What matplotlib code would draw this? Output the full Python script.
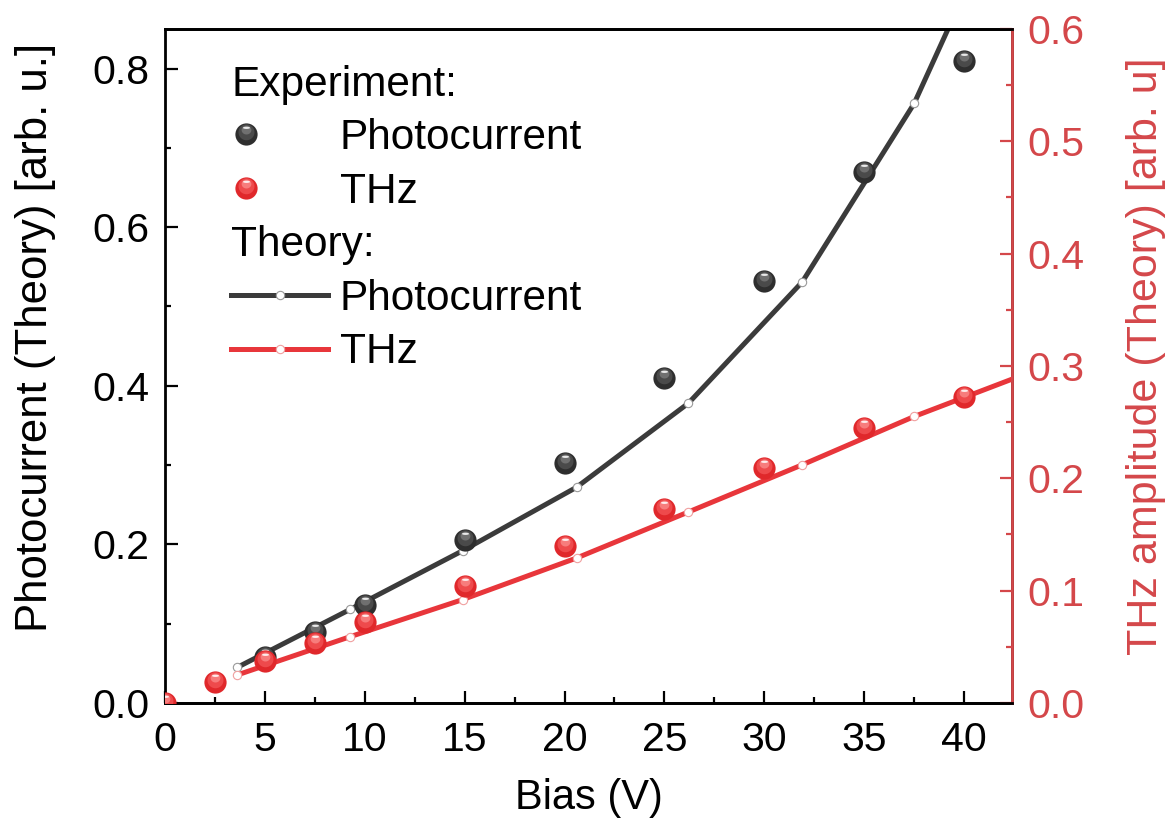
import numpy as np
import matplotlib
matplotlib.use("Agg")
import matplotlib.pyplot as plt
from matplotlib.path import Path
from matplotlib.lines import Line2D
from matplotlib.legend_handler import HandlerTuple
from matplotlib.ticker import MultipleLocator, FormatStrFormatter

plt.rcParams['font.family'] = ['Liberation Sans', 'DejaVu Sans']

# experiment
bias_pc = [5, 7.5, 10, 15, 20, 25, 30, 35, 40]
pc_exp = [0.058, 0.090, 0.123, 0.205, 0.302, 0.410, 0.532, 0.669, 0.810]
bias_thz = [0, 2.5, 5, 7.5, 10, 15, 20, 25, 30, 35, 40]
thz_exp = [0.0, 0.019, 0.037, 0.053, 0.072, 0.104, 0.140, 0.173, 0.209, 0.245, 0.272]

# theory
bias_th = [3.63, 9.27, 14.9, 20.6, 26.2, 31.9, 37.5, 43.1]
pc_th = [0.045, 0.118, 0.192, 0.272, 0.378, 0.531, 0.756, 1.066]
thz_th = [0.025, 0.059, 0.092, 0.129, 0.170, 0.212, 0.255, 0.293]

BLACK = '#3b3b3b'
RED = '#e8363b'
AXRED = '#d4474a'


def blob(cy, rx, ry):
    # marker path, the first lone MOVETO keeps the scale the same as 'o'
    t = np.linspace(0, 2 * np.pi, 41)
    v = np.column_stack([rx * np.cos(t), cy + ry * np.sin(t)])
    v = np.vstack([[0, -0.5], v])
    codes = [Path.MOVETO, Path.MOVETO] + [Path.LINETO] * 39 + [Path.CLOSEPOLY]
    return Path(v, codes)


def balls(a, x, y, base, mid, light, ms=16):
    h1, = a.plot(x, y, 'o', ms=ms, color=base, mew=0, ls='none', zorder=4)
    h2, = a.plot(x, y, marker=blob(0.1, 0.36, 0.36), ms=ms, color=mid, mew=0, ls='none', zorder=4)
    h3, = a.plot(x, y, marker=blob(0.2, 0.22, 0.2), ms=ms, color=light, mew=0, ls='none', zorder=4)
    h4, = a.plot(x, y, marker=blob(0.3, 0.16, 0.05), ms=ms, color='white', mew=0, ls='none',
                 alpha=0.85, zorder=4)
    return (h1, h2, h3, h4)


class LeftBall(HandlerTuple):
    # ball sits at the left end of the handle box
    def create_artists(self, legend, orig_handle, xdescent, ydescent, width, height, fontsize, trans):
        return super().create_artists(legend, orig_handle, xdescent, ydescent, width * 0.3,
                                      height, fontsize, trans)


fig = plt.figure(figsize=(11.7, 8.27), dpi=100)
ax = fig.add_axes([0.141, 0.150, 0.724, 0.815])
ax2 = ax.twinx()

l_pc, = ax.plot(bias_th, pc_th, '-', color=BLACK, lw=3.6, marker='o', ms=6,
                mfc='white', mec='#9a9a9a', mew=0.8, zorder=2)
b_pc = balls(ax, bias_pc, pc_exp, '#2e2e2e', '#4a4a4a', '#707070')

l_thz, = ax2.plot(bias_th, thz_th, '-', color=RED, lw=3.6, marker='o', ms=6,
                  mfc='white', mec='#f0a0a0', mew=0.8, zorder=2)
b_thz = balls(ax2, bias_thz, thz_exp, '#e0282b', '#ee4a4c', '#f77c7c')

ax.set_xlim(0, 42.4)
ax.set_ylim(0, 0.85)
ax2.set_ylim(0, 0.6)

ax.xaxis.set_major_locator(MultipleLocator(5))
ax.xaxis.set_minor_locator(MultipleLocator(2.5))
ax.yaxis.set_major_locator(MultipleLocator(0.2))
ax.yaxis.set_minor_locator(MultipleLocator(0.1))
ax2.yaxis.set_major_locator(MultipleLocator(0.1))
ax2.yaxis.set_minor_locator(MultipleLocator(0.05))
ax.yaxis.set_major_formatter(FormatStrFormatter('%.1f'))
ax2.yaxis.set_major_formatter(FormatStrFormatter('%.1f'))

ax.tick_params(which='both', direction='in', width=1.6, labelsize=29.5, top=False, right=False, pad=11)
ax.tick_params(axis='x', pad=13)
ax.tick_params(which='major', length=9)
ax.tick_params(which='minor', length=4.5)
ax2.tick_params(which='both', direction='in', width=1.6, labelsize=29.5, colors=AXRED, pad=11)
ax2.tick_params(which='major', length=9)
ax2.tick_params(which='minor', length=4.5)

for s in ax.spines.values():
    s.set_linewidth(2)
for s in ax2.spines.values():
    s.set_linewidth(2)
ax2.spines['right'].set_color(AXRED)
ax2.spines['left'].set_visible(False)

ax.set_xlabel('Bias (V)', fontsize=30, labelpad=14)
ax.set_ylabel('Photocurrent (Theory) [arb. u.]', fontsize=31.5, labelpad=26, y=0.542)
ax2.set_ylabel('THz amplitude (Theory) [arb. u]', fontsize=31, color=AXRED, labelpad=30, y=0.514)

head1 = Line2D([], [], ls='none')
head2 = Line2D([], [], ls='none')
leg = ax2.legend([head1, b_pc, b_thz, head2, l_pc, l_thz],
                 ['Experiment:', 'Photocurrent', 'THz', 'Theory:', 'Photocurrent', 'THz'],
                 handler_map={tuple: LeftBall(ndivide=1, pad=0)},
                 loc='upper left', bbox_to_anchor=(0.078, 0.947), frameon=False,
                 fontsize=30.5, handlelength=2.3, handletextpad=0.27, labelspacing=0.32,
                 borderpad=0, borderaxespad=0)

# header rows start where the symbols start
for col in leg._legend_handle_box.get_children():
    rows = col.get_children()
    for i in (0, 3):
        rows[i].get_children()[0].width = 0
        rows[i].sep = 0

fig.savefig('out.png', dpi=100)
